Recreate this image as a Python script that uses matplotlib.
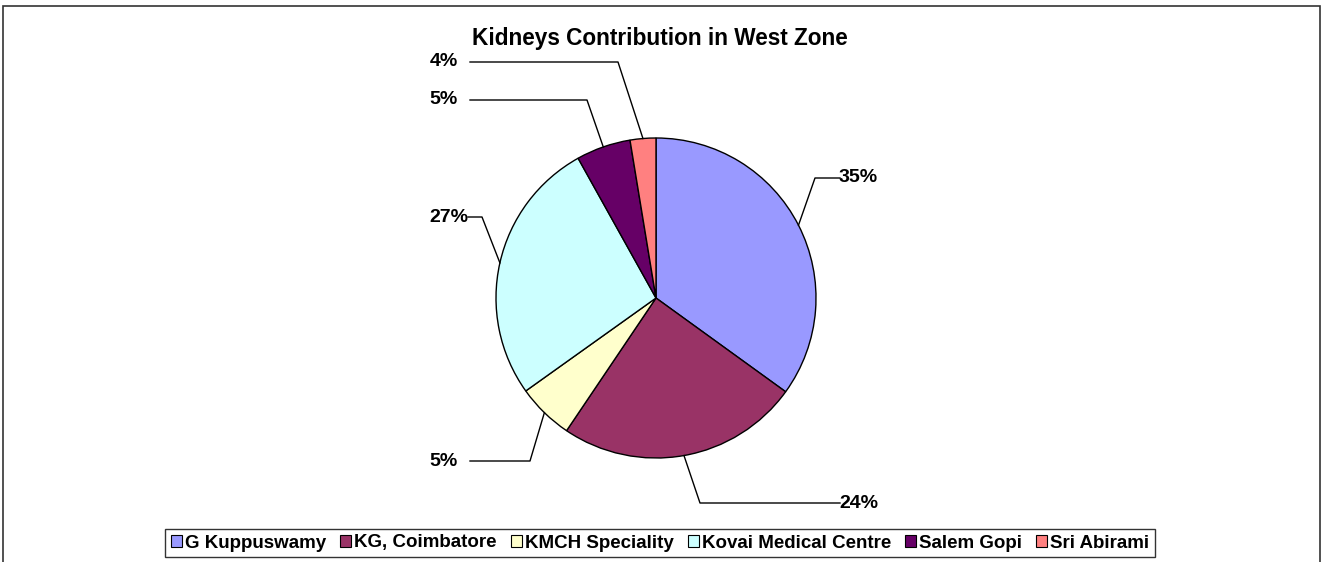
import numpy as np
import matplotlib
matplotlib.use("Agg")
import matplotlib.pyplot as plt
from matplotlib.patches import Rectangle

plt.rcParams['font.family'] = ['Liberation Sans', 'DejaVu Sans']

# data
hospitals = ["G Kuppuswamy", "KG, Coimbatore", "KMCH Speciality",
             "Kovai Medical Centre", "Salem Gopi", "Sri Abirami"]
shares = [35.0, 24.5, 5.7, 26.8, 5.5, 2.6]
pct_labels = ["35%", "24%", "5%", "27%", "5%", "4%"]
colors = ["#9999FF", "#993366", "#FFFFCC", "#CCFFFF", "#660066", "#FF8080"]

W, H = 1325, 562
fig = plt.figure(figsize=(W / 100, H / 100), dpi=100)
ax = fig.add_axes([0, 0, 1, 1])

# outer chart border
fig.patches.append(Rectangle((3 / W, -0.1), (1320 - 3) / W, (H - 6) / H + 0.1,
                             transform=fig.transFigure, fill=False,
                             edgecolor="#333333", linewidth=1.2))

cx, cy, r = 656, H - 298, 160
wedges, _ = ax.pie(shares, colors=colors, startangle=90, counterclock=False,
                   center=(cx, cy), radius=r, frame=True,
                   wedgeprops=dict(edgecolor="black", linewidth=1.0))
ax.set_xlim(0, W)
ax.set_ylim(0, H)
ax.set_aspect('equal')
ax.axis('off')

# label text anchors and elbow positions (pixel layout)
label_xy = [(878, H - 176), (878, H - 501), (458, H - 459),
            (468, H - 215), (458, H - 98), (458, H - 60)]
elbow_x = [[840, 815], [840, 700], [470, 530], [468, 482], [470, 587], [470, 618]]

for w, lab, (lx, ly), ex in zip(wedges, pct_labels, label_xy, elbow_x):
    mid = np.deg2rad((w.theta1 + w.theta2) / 2)
    px, py = cx + r * np.cos(mid), cy + r * np.sin(mid)
    ax.plot([ex[0], ex[1], px], [ly - 2, ly - 2, py], color="black", lw=1.0)
    ax.text(lx, ly - 2, lab, ha="right", va="center", fontsize=14, fontweight="bold")

ax.text(660, H - 39, "Kidneys Contribution in West Zone", ha="center", va="center",
        fontsize=16.3, fontweight="bold")

leg = ax.legend(wedges, hospitals, loc="center", bbox_to_anchor=(660 / W, (H - 543) / H),
                bbox_transform=fig.transFigure, ncol=6, frameon=True, fancybox=False,
                edgecolor="black", handlelength=0.6, handleheight=0.6, handletextpad=0.15,
                columnspacing=0.75, borderpad=0.3, prop=dict(size=13.5, weight="bold"))
leg.get_frame().set_linewidth(1.0)
for h in leg.legend_handles:
    h.set_linewidth(0.8)

fig.savefig("out.png", dpi=100)
